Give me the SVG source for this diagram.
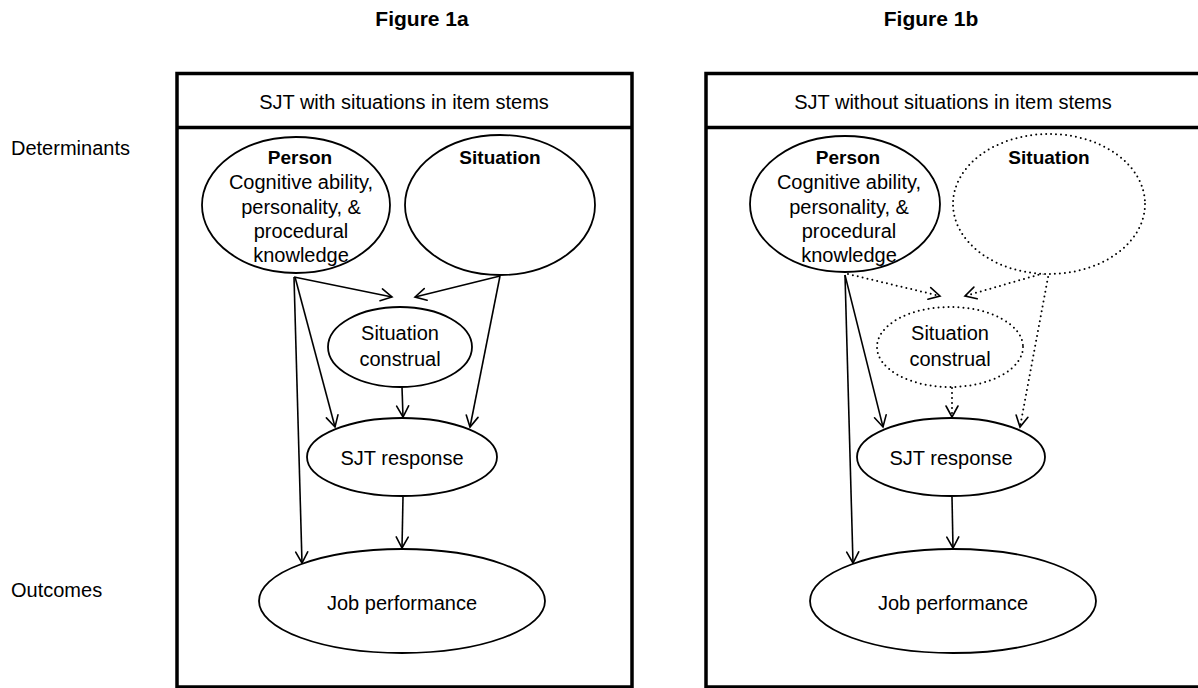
<svg xmlns="http://www.w3.org/2000/svg" width="1198" height="688" viewBox="0 0 1198 688">
<defs>
<marker id="arr" markerUnits="userSpaceOnUse" markerWidth="14" markerHeight="14" refX="12" refY="7" orient="auto" overflow="visible">
<path d="M1,1 L12,7 L1,13" fill="none" stroke="#000" stroke-width="1.6" stroke-dasharray="none" stroke-linecap="round" stroke-linejoin="miter"/>
</marker>
</defs>
<style>
text{font-family:"Liberation Sans",Arial,sans-serif;fill:#000;}
.t{font-size:20px;}
.tc{font-size:20px;text-anchor:middle;}
.b{font-size:19px;font-weight:bold;text-anchor:middle;}
.title{font-size:21px;font-weight:bold;text-anchor:middle;}
.frame{fill:none;stroke:#000;stroke-width:3.5;}
.node{fill:#fff;stroke:#000;stroke-width:1.8;}
.dnode{fill:#fff;stroke:#000;stroke-width:2;stroke-dasharray:0 5;stroke-linecap:round;}
.edge{fill:none;stroke:#000;stroke-width:1.6;marker-end:url(#arr);}
.dedge{fill:none;stroke:#000;stroke-width:2;stroke-dasharray:0 5;stroke-linecap:round;marker-end:url(#arr);}
</style>
<rect width="1198" height="688" fill="#fff"/>

<g id="labels">
<text class="title" x="422" y="26">Figure 1a</text>
<text class="title" x="931" y="26">Figure 1b</text>
<text class="t" x="11" y="155">Determinants</text>
<text class="t" x="11" y="597">Outcomes</text>
</g>

<g id="frame-1a">
<rect class="frame" x="177" y="73.5" width="455" height="613.5"/>
<line class="frame" x1="177" y1="127.5" x2="632" y2="127.5"/>
<text class="tc" x="404" y="109">SJT with situations in item stems</text>
</g>
<g id="frame-1b">
<rect class="frame" x="706" y="73.5" width="494" height="613.5"/>
<line class="frame" x1="706" y1="127.5" x2="1200" y2="127.5"/>
<text class="tc" x="953" y="109">SJT without situations in item stems</text>
</g>

<g id="connectors">
<line class="edge" x1="294" y1="277" x2="392" y2="297"/>
<line class="edge" x1="500" y1="276" x2="415" y2="297"/>
<line class="edge" x1="295" y1="277" x2="335" y2="427"/>
<line class="edge" x1="294" y1="277" x2="302" y2="563"/>
<line class="edge" x1="500" y1="276" x2="470" y2="427"/>
<line class="edge" x1="402" y1="387" x2="403" y2="417"/>
<line class="edge" x1="403" y1="497" x2="402" y2="548"/>

<line class="dedge" x1="848" y1="274" x2="940" y2="296"/>
<line class="dedge" x1="1048" y1="272" x2="965" y2="296"/>
<line class="edge" x1="845" y1="275" x2="883" y2="427"/>
<line class="edge" x1="845" y1="275" x2="853" y2="563"/>
<line class="dedge" x1="1049" y1="272" x2="1020" y2="427"/>
<line class="dedge" x1="952" y1="388" x2="952" y2="417"/>
<line class="edge" x1="952" y1="497" x2="953" y2="548"/>
</g>

<g id="person-1a">
<ellipse class="node" cx="296" cy="205" rx="94" ry="68"/>
<text class="b" x="300" y="164">Person</text>
<text class="tc" x="301" y="189">Cognitive ability,</text>
<text class="tc" x="301" y="214">personality, &amp;</text>
<text class="tc" x="301" y="238">procedural</text>
<text class="tc" x="301" y="262">knowledge</text>
</g>
<g id="situation-1a">
<ellipse class="node" cx="500" cy="205" rx="95" ry="70"/>
<text class="b" x="500" y="164">Situation</text>
</g>
<g id="construal-1a">
<ellipse class="node" cx="400" cy="347" rx="72" ry="40"/>
<text class="tc" x="400" y="340">Situation</text>
<text class="tc" x="400" y="366">construal</text>
</g>
<g id="response-1a">
<ellipse class="node" cx="402" cy="457" rx="95" ry="39"/>
<text class="tc" x="402" y="465">SJT response</text>
</g>
<g id="job-1a">
<ellipse class="node" cx="402" cy="601" rx="143" ry="52"/>
<text class="tc" x="402" y="610">Job performance</text>
</g>

<g id="person-1b">
<ellipse class="node" cx="845" cy="204" rx="95" ry="68"/>
<text class="b" x="848" y="164">Person</text>
<text class="tc" x="849" y="189">Cognitive ability,</text>
<text class="tc" x="849" y="214">personality, &amp;</text>
<text class="tc" x="849" y="238">procedural</text>
<text class="tc" x="849" y="262">knowledge</text>
</g>
<g id="situation-1b">
<ellipse class="dnode" cx="1049" cy="204" rx="96" ry="70"/>
<text class="b" x="1049" y="164">Situation</text>
</g>
<g id="construal-1b">
<ellipse class="dnode" cx="950" cy="347" rx="73" ry="40"/>
<text class="tc" x="950" y="340">Situation</text>
<text class="tc" x="950" y="366">construal</text>
</g>
<g id="response-1b">
<ellipse class="node" cx="951" cy="457" rx="94" ry="39"/>
<text class="tc" x="951" y="465">SJT response</text>
</g>
<g id="job-1b">
<ellipse class="node" cx="953" cy="601" rx="143" ry="52"/>
<text class="tc" x="953" y="610">Job performance</text>
</g>
</svg>
